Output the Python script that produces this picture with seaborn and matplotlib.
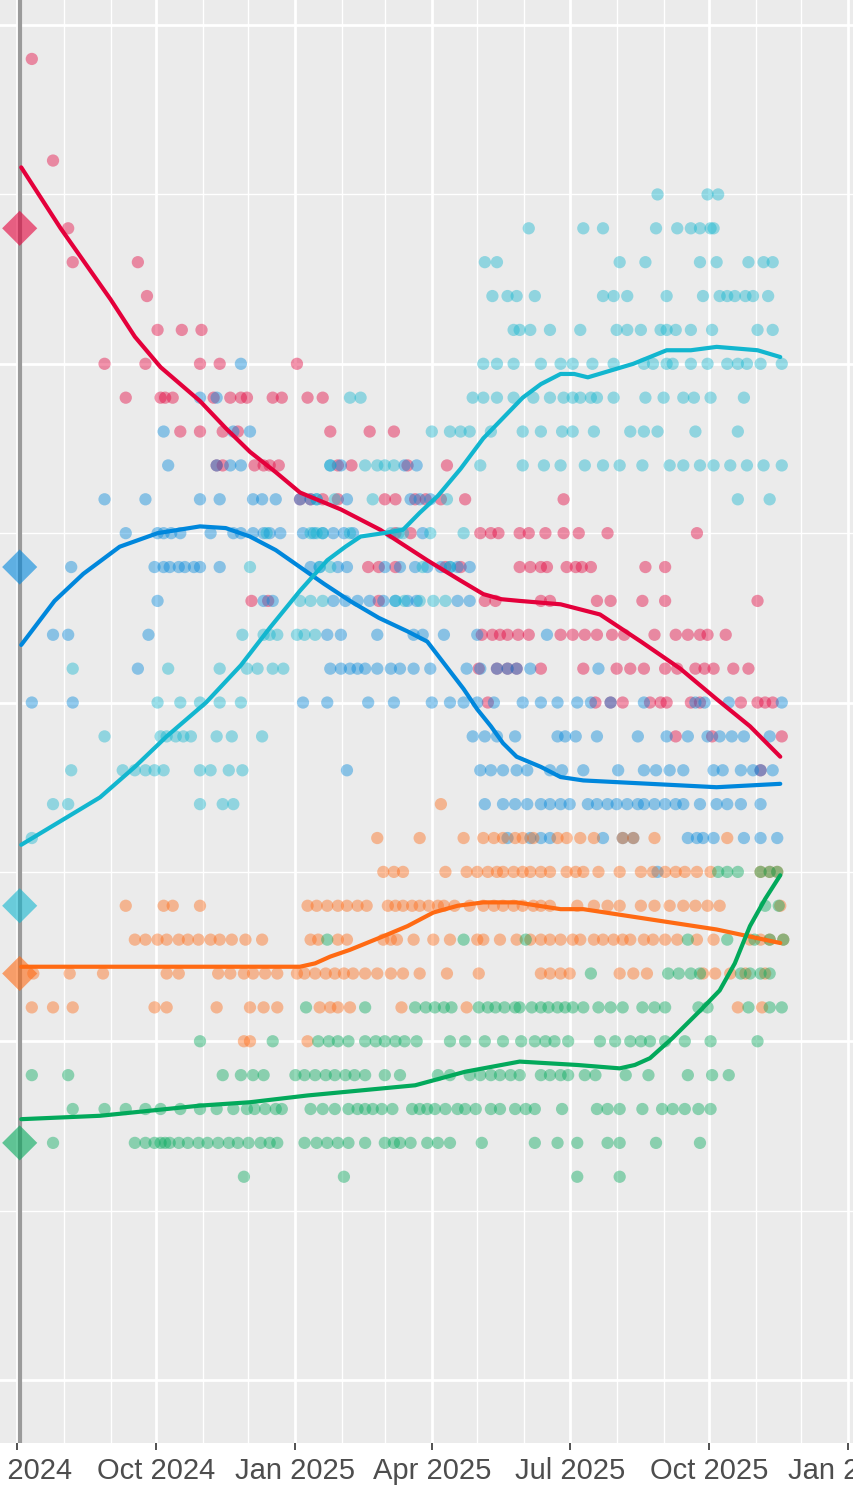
import pandas as pd
import matplotlib
matplotlib.use("Agg")
import matplotlib.pyplot as plt
import matplotlib.dates as mdates
import seaborn as sns

# ---------------------------------------------------------
# Data: UK voting intention since the July 2024 election
# poll dates are stored as days after the election
# ---------------------------------------------------------
election_date = pd.Timestamp("2024-07-04")

parties = ["Labour", "Conservative", "Reform", "Lib Dem", "Green"]
colours = {
    "Labour": "#E4003B",
    "Conservative": "#0087DC",
    "Reform": "#12B6CF",
    "Lib Dem": "#FF6A13",
    "Green": "#02A95B",
}
result_pct = [34, 24, 14, 12, 7]

# polls: {percent: [days after election, ...]}
lab_polls = {
    39: [7],
    36: [21],
    34: [31],
    33: [34, 77],
    32: [83],
    31: [90, 106, 119],
    30: [55, 82, 118, 131, 182],
    29: [69, 92, 95, 100, 127, 138, 145, 149, 166, 172, 189, 199],
    28: [105, 118, 133, 143, 204, 230, 246],
    27: [129, 133, 154, 160, 164, 170, 209, 218, 255, 281],
    26: [184, 191, 199, 209, 240, 247, 260, 267, 277, 293, 358],
    25: [247, 257, 303, 310, 315, 329, 335, 346, 358, 368, 387, 446],
    24: [229, 236, 247, 280, 290, 329, 336, 343, 347, 360, 366, 370, 376, 412, 425],
    23: [152, 163, 236, 306, 313, 343, 349, 380, 389, 410, 425, 486],
    22: [304, 311, 316, 321, 328, 335, 356, 364, 372, 380, 390, 398, 418, 432, 440, 448, 453, 465],
    21: [302, 314, 321, 327, 343, 371, 393, 402, 411, 425, 433, 445, 451, 457, 470, 480],
    20: [308, 379, 389, 397, 415, 422, 426, 442, 448, 475, 486, 491, 496],
    19: [432, 456, 502],
    18: [488],
}

con_polls = {
    30: [145],
    29: [118, 129],
    28: [94, 140, 151],
    27: [97, 129, 138, 145, 204, 211, 253, 261],
    26: [55, 82, 118, 131, 153, 159, 168, 184, 191, 195, 215, 257, 263, 270],
    25: [69, 90, 94, 99, 105, 125, 140, 145, 153, 160, 164, 171, 186, 193, 199, 206, 213, 219, 265],
    24: [33, 88, 94, 98, 104, 108, 114, 118, 131, 191, 197, 209, 215, 240, 250, 260, 268, 277, 283, 288, 296],
    23: [90, 160, 166, 206, 214, 222, 230, 239, 247, 255, 261, 288, 296],
    22: [21, 31, 84, 202, 211, 235, 259, 265, 279, 301, 347],
    21: [77, 204, 211, 217, 222, 227, 235, 244, 250, 259, 270, 294, 303, 314, 321, 327, 336, 381],
    20: [7, 34, 186, 202, 229, 246, 271, 283, 292, 301, 312, 331, 343, 354, 367, 376, 389, 411, 445, 451, 467, 502],
    19: [298, 306, 314, 326, 354, 359, 366, 380, 407, 426, 440, 453, 461, 469, 477, 494],
    18: [215, 303, 310, 318, 327, 334, 349, 357, 371, 394, 411, 419, 428, 437, 457, 463, 475, 483, 488, 496],
    17: [306, 318, 326, 334, 343, 349, 356, 362, 374, 380, 387, 393, 400, 407, 411, 418, 425, 432, 437, 448, 459, 466, 475, 488],
    16: [321, 336, 343, 349, 384, 397, 404, 440, 446, 450, 457, 477, 488, 499],
    15: [420],
}

ref_polls = {
    35: [420, 453, 460],
    34: [335, 371, 384, 419, 433, 442, 448, 455, 457],
    33: [306, 314, 395, 412, 448, 459, 480, 490, 496],
    32: [311, 321, 327, 339, 384, 391, 400, 426, 450, 461, 466, 471, 478, 483, 493],
    31: [325, 329, 336, 349, 369, 393, 400, 409, 422, 426, 432, 442, 456, 486, 496],
    30: [305, 314, 325, 343, 356, 364, 377, 391, 411, 417, 426, 430, 442, 453, 466, 473, 479, 488, 502],
    29: [217, 224, 298, 305, 314, 325, 338, 349, 358, 364, 369, 376, 380, 391, 412, 424, 437, 444, 455, 477],
    28: [271, 283, 290, 296, 310, 331, 343, 357, 364, 378, 402, 411, 420, 445, 473],
    27: [204, 227, 235, 240, 246, 303, 331, 345, 356, 372, 384, 395, 410, 428, 437, 448, 457, 468, 479, 490, 502],
    26: [195, 207, 232, 281, 473, 494],
    25: [162, 191, 195, 199, 217, 244, 249, 252, 270, 292],
    24: [151, 197, 204, 265, 283],
    23: [184, 191, 199, 247, 253, 263, 272, 280],
    22: [146, 160, 164, 169, 182, 187, 194],
    21: [34, 97, 131, 149, 156, 166, 173],
    20: [90, 105, 118, 131, 145],
    19: [55, 92, 96, 102, 107, 112, 129, 139, 159],
    18: [33, 67, 75, 82, 88, 94, 118, 125, 137, 146],
    17: [21, 31, 118, 133, 140],
    16: [7],
}

ld_polls = {
    17: [277],
    16: [235, 263, 292, 305, 312, 318, 326, 331, 338, 354, 360, 369, 378, 397, 404, 418, 466],
    15: [239, 246, 252, 280, 294, 301, 308, 314, 318, 325, 331, 336, 343, 349, 360, 366, 371, 381,
         395, 409, 417, 425, 432, 438, 446, 455, 488, 494, 499],
    14: [69, 94, 100, 118, 189, 195, 202, 209, 215, 222, 228, 242, 247, 252, 258, 263, 269, 275, 279,
         286, 296, 305, 312, 318, 325, 331, 338, 343, 349, 367, 378, 387, 395, 409, 418, 428, 437, 445,
         453, 461, 501],
    13: [75, 82, 90, 96, 104, 110, 117, 125, 131, 139, 148, 159, 191, 196, 209, 215, 239, 244, 248,
         259, 272, 283, 301, 305, 316, 327, 336, 343, 349, 356, 364, 369, 378, 384, 391, 397, 402, 411,
         417, 425, 433, 446, 457, 481, 488, 494, 503],
    12: [8, 32, 54, 96, 104, 130, 138, 147, 153, 161, 169, 182, 187, 194, 201, 207, 213, 219, 227, 235,
         244, 252, 263, 281, 302, 343, 349, 356, 362, 395, 404, 413, 450, 458, 468, 478, 491],
    11: [7, 21, 34, 88, 96, 129, 151, 160, 169, 197, 204, 209, 217, 251, 294, 473, 489],
    10: [147, 151, 189],
}

grn_polls = {
    15: [460, 466, 473, 488, 494, 499],
    14: [491, 500],
    13: [202, 292, 333, 440, 466, 484, 494, 503],
    12: [376, 427, 434, 442, 448, 475, 481, 488, 494],
    11: [188, 227, 260, 267, 273, 279, 284, 302, 308, 313, 319, 326, 329, 337, 343, 348, 354, 359, 364,
         371, 381, 389, 397, 410, 418, 425, 447, 453, 480, 494, 502],
    10: [118, 166, 196, 203, 209, 216, 227, 234, 240, 247, 253, 261, 283, 293, 306, 318, 330, 339, 346,
         352, 361, 382, 392, 402, 409, 415, 425, 438, 455, 486],
    9: [7, 31, 133, 145, 153, 160, 181, 187, 194, 201, 207, 214, 220, 227, 240, 250, 275, 283, 296, 303,
        310, 316, 323, 329, 343, 349, 356, 361, 372, 379, 399, 414, 440, 456, 467],
    8: [34, 55, 69, 82, 92, 105, 118, 129, 140, 149, 154, 161, 168, 172, 191, 199, 207, 216, 222, 227,
        232, 238, 245, 258, 263, 268, 273, 280, 288, 293, 300, 310, 316, 326, 333, 339, 357, 380, 387,
        395, 410, 423, 430, 438, 447, 455],
    7: [21, 75, 82, 88, 92, 95, 98, 104, 110, 117, 123, 130, 137, 143, 150, 158, 164, 169, 187, 195,
        202, 209, 216, 227, 240, 246, 250, 257, 268, 275, 283, 304, 339, 354, 367, 387, 395, 419, 448],
    6: [147, 213, 367, 395],
}

# smoothed trend lines (days after election, percent)
lab_trend_day = [0, 26, 59, 75, 92, 118, 135, 151, 168, 184, 211, 237, 268, 290, 305, 317, 329, 356,
                 382, 409, 435, 459, 481, 501]
lab_trend_pct = [35.8, 34.0, 31.9, 30.8, 29.9, 28.9, 28.1, 27.4, 26.8, 26.2, 25.7, 25.1, 24.2, 23.6,
                 23.2, 23.05, 23.0, 22.9, 22.6, 21.8, 21.0, 20.1, 19.3, 18.4]
con_trend_day = [0, 22, 41, 65, 90, 118, 135, 151, 168, 184, 200, 217, 236, 255, 268, 280, 292, 301,
                 310, 318, 327, 343, 356, 371, 415, 459, 501]
con_trend_pct = [21.7, 23.0, 23.8, 24.6, 25.0, 25.2, 25.15, 24.9, 24.5, 24.0, 23.5, 23.0, 22.5, 22.1,
                 21.8, 21.1, 20.4, 19.8, 19.3, 18.8, 18.4, 18.1, 17.8, 17.7, 17.6, 17.5, 17.6]
ref_trend_day = [0, 26, 52, 75, 96, 122, 145, 164, 184, 202, 214, 224, 239, 252, 263, 275, 290, 305,
                 318, 331, 343, 356, 365, 374, 389, 404, 426, 442, 459, 486, 501]
ref_trend_pct = [15.8, 16.5, 17.2, 18.1, 19.0, 20.0, 21.1, 22.2, 23.3, 24.2, 24.6, 24.9, 25.0, 25.1,
                 25.6, 26.1, 26.9, 27.8, 28.4, 29.0, 29.4, 29.7, 29.7, 29.6, 29.8, 30.0, 30.4, 30.4,
                 30.5, 30.4, 30.2]
ld_trend_day = [0, 85, 151, 184, 194, 204, 217, 228, 239, 255, 272, 288, 305, 327, 356, 371, 415,
                459, 501]
ld_trend_pct = [12.2, 12.2, 12.2, 12.2, 12.3, 12.5, 12.7, 12.9, 13.1, 13.4, 13.8, 14.0, 14.1, 14.1,
                13.9, 13.9, 13.6, 13.3, 12.9]
grn_trend_day = [0, 52, 118, 151, 189, 260, 293, 329, 367, 395, 405, 415, 430, 448, 461, 471, 481,
                 491, 501]
grn_trend_pct = [7.7, 7.8, 8.1, 8.2, 8.4, 8.7, 9.1, 9.4, 9.3, 9.2, 9.3, 9.5, 10.1, 10.9, 11.5, 12.3,
                 13.4, 14.2, 14.9]

all_polls = [lab_polls, con_polls, ref_polls, ld_polls, grn_polls]
all_trends = [
    (lab_trend_day, lab_trend_pct),
    (con_trend_day, con_trend_pct),
    (ref_trend_day, ref_trend_pct),
    (ld_trend_day, ld_trend_pct),
    (grn_trend_day, grn_trend_pct),
]

# ---------------------------------------------------------
# DataFrames
# ---------------------------------------------------------
rows = []
for party, polls in zip(parties, all_polls):
    for pct, days in polls.items():
        for d in days:
            rows.append((party, election_date + pd.Timedelta(days=d), pct))
df_polls = pd.DataFrame(rows, columns=["party", "date", "pct"])

trend_rows = []
for party, (days, pcts) in zip(parties, all_trends):
    for d, p in zip(days, pcts):
        trend_rows.append((party, election_date + pd.Timedelta(days=d), p))
df_trend = pd.DataFrame(trend_rows, columns=["party", "date", "pct"])

# ---------------------------------------------------------
# Plot
# ---------------------------------------------------------
plt.rcParams["font.family"] = ["Liberation Sans", "DejaVu Sans"]

fig = plt.figure(figsize=(8.54, 15.04), dpi=100)
ax = fig.add_axes([0, 61 / 1504, 1, 1443 / 1504])
ax.set_facecolor("#EBEBEB")

ax.axvline(election_date - pd.Timedelta(days=1), color="#9A9A9A", lw=3, zorder=1.5)

sns.scatterplot(
    data=df_polls, x="date", y="pct", hue="party", palette=colours,
    s=78, alpha=0.42, linewidth=0, legend=False, ax=ax, zorder=2
)

for party in parties:
    sub = df_trend[df_trend["party"] == party]
    sns.lineplot(
        data=sub, x="date", y="pct", color=colours[party], lw=3,
        estimator=None, sort=False, ax=ax, zorder=3
    )
for line in ax.lines:
    line.set_solid_joinstyle("round")
    line.set_solid_capstyle("round")

ax.scatter(
    [election_date - pd.Timedelta(days=1)] * len(parties), result_pct, marker="D", s=320,
    c=[colours[p] for p in parties], alpha=0.6, linewidths=0, zorder=4
)

# axes, grid
ax.set_xlim(mdates.date2num(pd.Timestamp("2024-06-20")), mdates.date2num(pd.Timestamp("2026-01-04 16:00")))
ax.set_ylim(-1.86, 40.74)

ax.xaxis.set_major_locator(mdates.MonthLocator(bymonth=[1, 4, 7, 10]))
ax.xaxis.set_major_formatter(mdates.DateFormatter("%b %Y"))
ax.xaxis.set_minor_locator(mdates.MonthLocator())
ax.set_yticks([0, 10, 20, 30, 40])
ax.set_yticks([5, 15, 25, 35], minor=True)

ax.grid(which="major", color="white", lw=2)
ax.grid(which="minor", color="white", lw=1)
ax.set_axisbelow(True)

ax.tick_params(axis="y", which="both", length=0, labelleft=False)
ax.tick_params(axis="x", which="major", length=5, width=1.2, color="#333333",
               labelsize=21, labelcolor="#4D4D4D", pad=5)
ax.tick_params(axis="x", which="minor", length=0)
ax.set_xlabel("")
ax.set_ylabel("")
for s in ax.spines.values():
    s.set_visible(False)

fig.savefig("out.png", dpi=100)
